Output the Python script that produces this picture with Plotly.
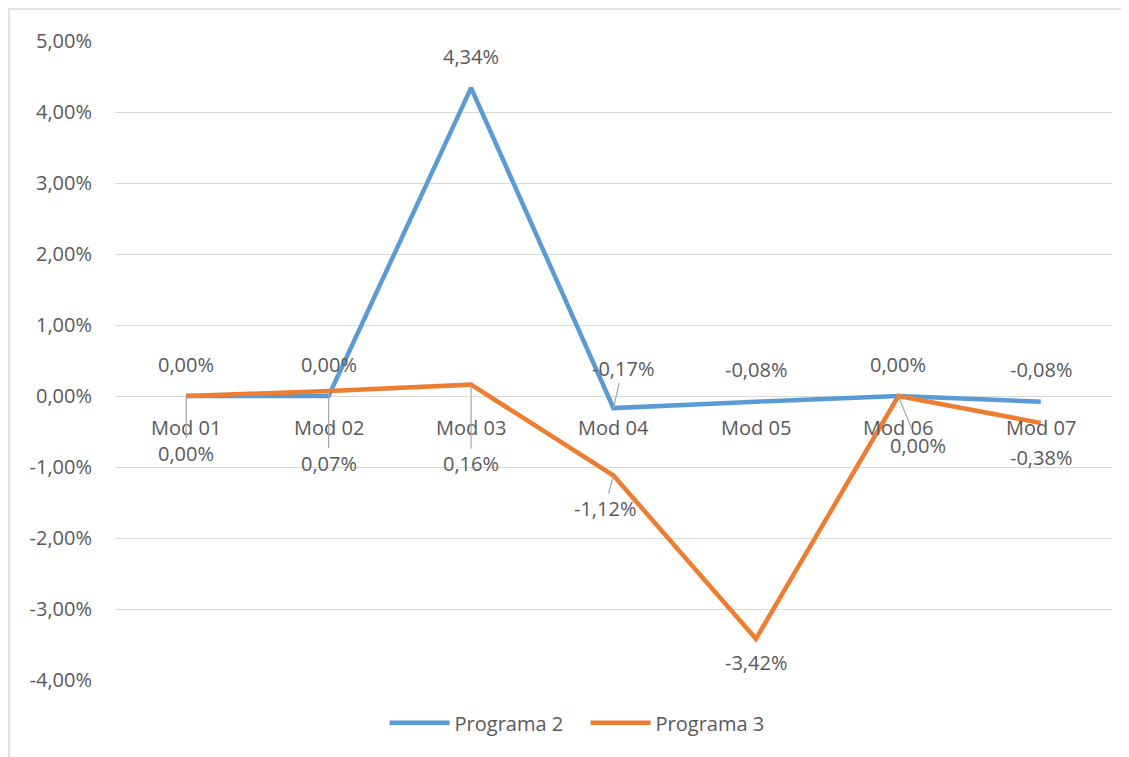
import plotly.graph_objects as go

# data (values in percent)
categories = ["Mod 01", "Mod 02", "Mod 03", "Mod 04", "Mod 05", "Mod 06", "Mod 07"]
programa_2 = [0.00, 0.00, 4.34, -0.17, -0.08, 0.00, -0.08]
programa_3 = [0.00, 0.07, 0.16, -1.12, -3.42, 0.00, -0.38]
tick_vals = [-4, -3, -2, -1, 0, 1, 2, 3, 4, 5]
tick_text = ["-4,00%", "-3,00%", "-2,00%", "-1,00%", "0,00%",
             "1,00%", "2,00%", "3,00%", "4,00%", "5,00%"]

BLUE = "#5B9BD5"
ORANGE = "#ED7D31"
TEXT = "#595959"
GRID = "#D9D9D9"
LEADER = "#A6A6A6"
FONT = "Open Sans"
FSIZE = 20

# label placement (pixel offsets from the point, leader line or not)
p2_offsets = [(0, -32, False), (0, -32, False), (0, -31, False), (9, -40, True),
              (0, -32, False), (0, -32, False), (0, -32, False)]
p3_offsets = [(0, 57, True), (0, 72, True), (0, 79, True), (-9, 33, True),
              (0, 24, False), (20, 49, True), (0, 35, False)]


def fmt(v):
    return f"{v:.2f}%".replace(".", ",")


fig = go.Figure()
fig.add_trace(go.Scatter(x=categories, y=programa_2, mode="lines", name="Programa 2",
                         line=dict(color=BLUE, width=4.5)))
fig.add_trace(go.Scatter(x=categories, y=programa_3, mode="lines", name="Programa 3",
                         line=dict(color=ORANGE, width=4.5)))

annotations = []
# category labels sit on the zero line, like Excel's crossing axis
for cat in categories:
    annotations.append(dict(x=cat, y=0, xref="x", yref="y", text=cat, showarrow=False,
                            yshift=-31, font=dict(family=FONT, size=FSIZE, color=TEXT)))

for values, offsets in ((programa_2, p2_offsets), (programa_3, p3_offsets)):
    for cat, v, (dx, dy, leader) in zip(categories, values, offsets):
        a = dict(x=cat, y=v, xref="x", yref="y", text=fmt(v),
                 font=dict(family=FONT, size=FSIZE, color=TEXT))
        if leader:
            a.update(showarrow=True, ax=dx, ay=dy, arrowhead=0, arrowwidth=1.2,
                     arrowcolor=LEADER, standoff=0)
        else:
            a.update(showarrow=False, xshift=dx, yshift=-dy)
        annotations.append(a)

# page body has an 8px margin, so the figure is sized/positioned to compensate
PAD = 8
L, R, T, B = 115, 1112, 41, 680
W, H = R - L, B - T
fig.add_shape(type="rect", xref="paper", yref="paper",
              x0=(9 - L) / W, x1=(1140 - L) / W, y0=(B - 770) / H, y1=(B - 9) / H,
              line=dict(color=GRID, width=1.5), fillcolor="rgba(0,0,0,0)")

fig.update_layout(
    width=1129 - PAD, height=757 - PAD,
    margin=dict(l=L - PAD, r=1129 - R, t=T - PAD, b=757 - B),
    plot_bgcolor="white", paper_bgcolor="white",
    font=dict(family=FONT, size=FSIZE, color=TEXT),
    annotations=annotations,
    showlegend=True,
    legend=dict(orientation="h", x=0.472, xanchor="center", y=-0.067, yanchor="middle",
                font=dict(family=FONT, size=FSIZE, color=TEXT), itemwidth=60,
                entrywidth=126, entrywidthmode="pixels"),
)
fig.update_xaxes(showticklabels=False, showgrid=False, zeroline=False, showline=False,
                 range=[-0.5, 6.5])
fig.update_yaxes(range=[-4, 5], tickvals=tick_vals, ticktext=tick_text, showgrid=True,
                 gridcolor=GRID, gridwidth=1.2, zeroline=True, zerolinecolor=GRID,
                 zerolinewidth=1.2, showline=False, ticklabelstandoff=22,
                 tickfont=dict(family=FONT, size=FSIZE, color=TEXT))

fig.write_html("out.html")
